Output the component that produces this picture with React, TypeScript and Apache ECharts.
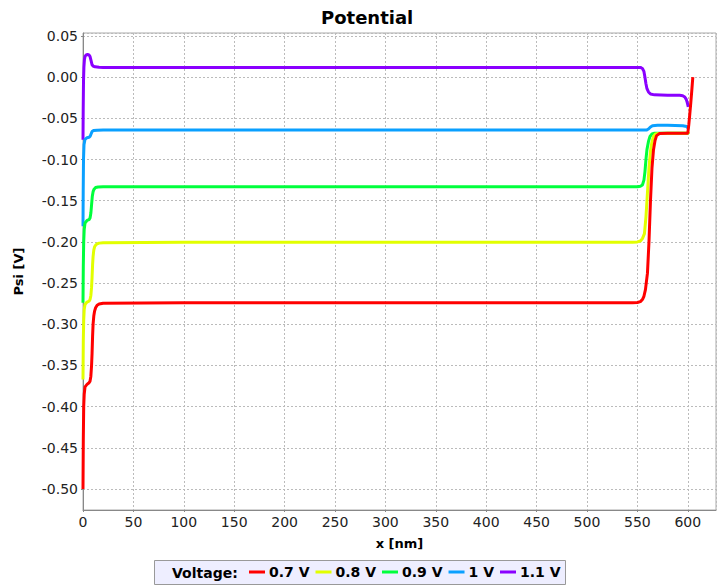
import React, { useEffect, useRef } from "react";
import * as echarts from "echarts";

const seriesNames = ["0.7 V", "0.8 V", "0.9 V", "1 V", "1.1 V"];
const seriesColors = ["#ff0000", "#e2ff00", "#00ff3c", "#0aa0ff", "#8a00ff"];

const xRed = [0, 0.3, 0.7, 1.2, 2, 4, 6, 7, 7.8, 8.5, 9, 9.5, 10, 10.7, 11.5, 12.5, 14, 16, 20, 100, 200, 300, 400, 500, 545, 550, 553, 555, 556.5, 558, 560, 561.5, 563, 564.5, 566, 567.5, 569, 572, 580, 590, 600, 601, 602, 603, 604, 605];
const yRed = [-0.5, -0.44, -0.4, -0.385, -0.376, -0.373, -0.371, -0.369, -0.363, -0.35, -0.335, -0.315, -0.3, -0.29, -0.284, -0.28, -0.277, -0.2755, -0.2745, -0.274, -0.274, -0.274, -0.274, -0.274, -0.274, -0.2735, -0.2725, -0.27, -0.266, -0.258, -0.238, -0.2, -0.15, -0.11, -0.088, -0.077, -0.071, -0.0685, -0.068, -0.068, -0.068, -0.058, -0.045, -0.031, -0.016, 0.0];

const xYellow = [0, 0.3, 0.7, 1.2, 2, 4, 6, 7, 7.8, 8.5, 9, 9.5, 10, 10.7, 11.5, 12.5, 14, 16, 20, 100, 200, 300, 400, 500, 545, 550, 553, 555, 557, 558.5, 560, 561.5, 563, 564.5, 566, 568, 571, 580, 590, 600, 601];
const yYellow = [-0.367, -0.32, -0.295, -0.282, -0.276, -0.273, -0.272, -0.27, -0.265, -0.255, -0.243, -0.228, -0.218, -0.21, -0.206, -0.204, -0.2025, -0.2015, -0.201, -0.2005, -0.2005, -0.2005, -0.2005, -0.2005, -0.2005, -0.2, -0.199, -0.196, -0.19, -0.17, -0.14, -0.11, -0.09, -0.078, -0.072, -0.069, -0.0683, -0.068, -0.068, -0.068, -0.066];

const xGreen = [0, 0.3, 0.7, 1.2, 2, 4, 6, 7, 7.8, 8.5, 9.2, 10, 11, 12.5, 15, 20, 100, 200, 300, 400, 500, 550, 553, 555, 556.5, 557.5, 558.5, 559.5, 561, 562.5, 564.5, 567, 580, 590, 600, 601];
const yGreen = [-0.274, -0.23, -0.2, -0.185, -0.177, -0.174, -0.173, -0.171, -0.165, -0.155, -0.145, -0.139, -0.136, -0.134, -0.1333, -0.133, -0.133, -0.133, -0.133, -0.133, -0.133, -0.133, -0.1325, -0.131, -0.125, -0.115, -0.1, -0.088, -0.078, -0.072, -0.069, -0.068, -0.068, -0.068, -0.068, -0.067];

const xBlue = [0, 0.2, 0.5, 1, 2, 4, 6, 7, 8, 9, 10.5, 14, 20, 100, 200, 300, 400, 500, 555, 559, 561, 563, 565, 570, 580, 595, 599, 601];
const yBlue = [-0.181, -0.14, -0.1, -0.082, -0.0755, -0.0735, -0.073, -0.072, -0.069, -0.066, -0.0648, -0.0644, -0.0643, -0.0643, -0.0643, -0.0643, -0.0643, -0.0643, -0.0643, -0.0643, -0.063, -0.0605, -0.059, -0.0585, -0.0585, -0.059, -0.06, -0.063];

const xPurple = [0, 0.2, 0.5, 0.9, 1.4, 2, 3, 4.5, 6, 7, 8, 9, 10, 12, 16, 20, 100, 200, 300, 400, 500, 553, 555, 556.5, 557.5, 558.5, 559.5, 561, 563, 567, 580, 592, 595, 597, 598.5, 599.5, 600.5];
const yPurple = [-0.076, -0.04, -0.005, 0.012, 0.021, 0.025, 0.027, 0.0275, 0.027, 0.025, 0.02, 0.015, 0.0135, 0.0125, 0.012, 0.0118, 0.0118, 0.0118, 0.0118, 0.0118, 0.0118, 0.0118, 0.0105, 0.007, 0.0, -0.008, -0.014, -0.018, -0.0205, -0.0215, -0.022, -0.022, -0.0225, -0.024, -0.027, -0.031, -0.036];

const xTickLabels = ["0", "50", "100", "150", "200", "250", "300", "350", "400", "450", "500", "550", "600"];

const allX = [xRed, xYellow, xGreen, xBlue, xPurple];
const allY = [yRed, yYellow, yGreen, yBlue, yPurple];

const FONT = "DejaVu Sans";

export default function App() {
  const ref = useRef<HTMLDivElement>(null);
  useEffect(() => {
    if (!ref.current) return;
    const chart = echarts.init(ref.current, undefined, { renderer: "svg" });
    const series = seriesNames.map((name, i) => ({
      name,
      type: "line",
      data: allX[i].map((x, j) => [x, allY[i][j]]),
      showSymbol: false,
      symbol: "none",
      smooth: false,
      z: 10 - i,
      lineStyle: { color: seriesColors[i], width: 3 },
      itemStyle: { color: seriesColors[i] },
      clip: true,
    }));
    chart.setOption({
      animation: false,
      backgroundColor: "#ffffff",
      title: {
        text: "Potential",
        left: 316,
        top: 3,
        textStyle: { fontFamily: FONT, fontWeight: "bold", fontSize: 18, color: "#000" },
      },
      grid: {
        left: 83,
        right: 1,
        top: 33,
        bottom: 76,
        show: true,
        borderColor: "#aaaaaa",
        borderWidth: 1,
        backgroundColor: "#ffffff",
      },
      xAxis: {
        type: "value",
        min: 0,
        max: 628,
        interval: 50,
        name: "x [nm]",
        nameLocation: "middle",
        nameGap: 27,
        nameTextStyle: { fontFamily: FONT, fontWeight: "bold", fontSize: 13, color: "#000" },
        axisLine: { show: true, onZero: false, lineStyle: { color: "#888888" } },
        axisTick: { show: true, length: 2, lineStyle: { color: "#888888" } },
        axisLabel: {
          fontFamily: FONT,
          fontSize: 14,
          color: "#222",
          margin: 5,
          showMaxLabel: false,
          formatter: (v: number) => {
            const k = Math.round(v / 50);
            return Math.abs(v - k * 50) < 1e-6 && xTickLabels[k] ? xTickLabels[k] : "";
          },
        },
        splitLine: { show: true, lineStyle: { color: "#bbbbbb", type: [2, 2], width: 1 } },
      },
      yAxis: {
        type: "value",
        min: -0.5255,
        max: 0.0536,
        splitNumber: 12,
        name: "Psi [V]",
        nameLocation: "middle",
        nameGap: 58,
        nameRotate: 90,
        nameTextStyle: { fontFamily: FONT, fontWeight: "bold", fontSize: 13, color: "#000" },
        axisLine: { show: true, onZero: false, lineStyle: { color: "#888888" } },
        axisTick: { show: true, length: 2, lineStyle: { color: "#888888" } },
        axisLabel: {
          fontFamily: FONT,
          fontSize: 14,
          color: "#222",
          margin: 5,
          showMinLabel: false,
          showMaxLabel: false,
          formatter: (v: number) => {
            const r = Math.round(v * 100) / 100;
            if (Math.abs(v * 20 - Math.round(v * 20)) > 1e-6) return "";
            return (Math.abs(r) < 1e-9 ? 0 : r).toFixed(2);
          },
        },
        splitLine: { show: true, lineStyle: { color: "#bbbbbb", type: [2, 2], width: 1 } },
      },
      legend: {
        data: seriesNames,
        left: 249,
        top: 565,
        padding: 0,
        itemGap: 6,
        itemWidth: 16,
        itemHeight: 3,
        icon: "rect",
        textStyle: { fontFamily: FONT, fontWeight: "bold", fontSize: 14, color: "#000", padding: [0, 0, 0, -1] },
      },
      graphic: [
        {
          type: "rect",
          z: -1,
          shape: { x: 154.5, y: 560.5, width: 411, height: 24 },
          style: { fill: "#eeeeff", stroke: "#999999", lineWidth: 1 },
        },
        {
          type: "text",
          x: 172,
          y: 572.5,
          style: {
            text: "Voltage:",
            fontFamily: FONT,
            fontWeight: "bold",
            fontSize: 14,
            fill: "#000",
            verticalAlign: "middle",
          },
        },
      ],
      series,
    });
    return () => chart.dispose();
  }, []);
  return <div ref={ref} style={{ position: "fixed", left: 0, top: 0, width: 717, height: 586 }} />;
}
